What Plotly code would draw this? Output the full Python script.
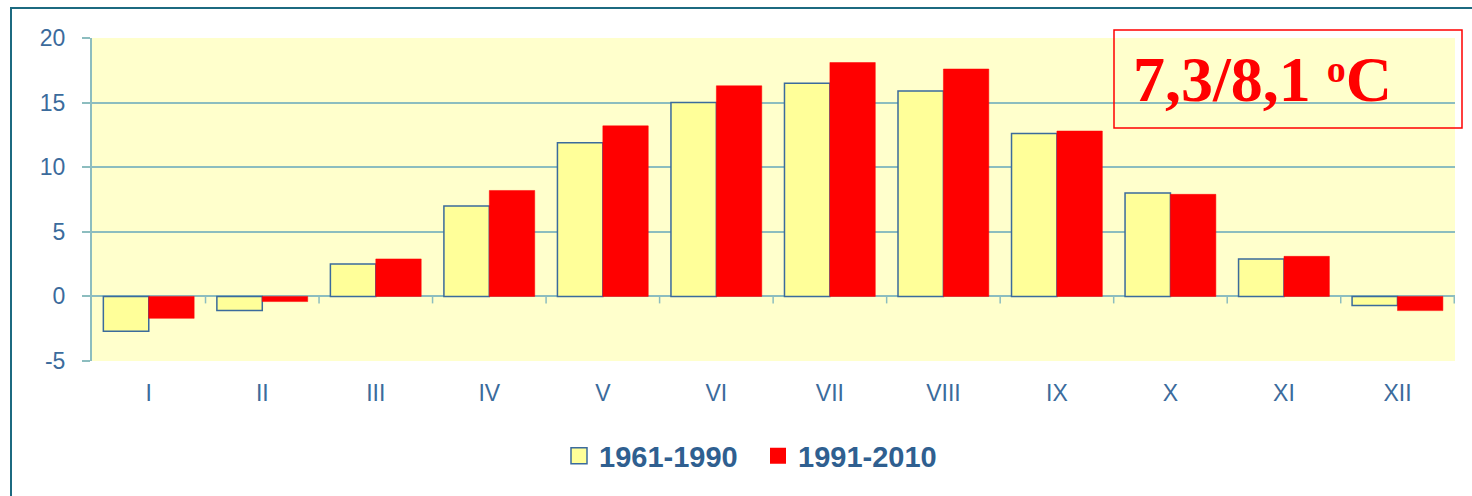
import plotly.graph_objects as go

months = ["I", "II", "III", "IV", "V", "VI", "VII", "VIII", "IX", "X", "XI", "XII"]
temp_1961_1990 = [-2.7, -1.1, 2.5, 7.0, 11.9, 15.0, 16.5, 15.9, 12.6, 8.0, 2.9, -0.7]
temp_1991_2010 = [-1.7, -0.4, 2.9, 8.2, 13.2, 16.3, 18.1, 17.6, 12.8, 7.9, 3.1, -1.1]
series_names = ["1961-1990", "1991-2010"]
mean_label = "7,3/8,1 <span style='font-size:38px;baseline-shift:19px'>o</span>C"
y_ticks = [-5, 0, 5, 10, 15, 20]
y_tick_text = ["-5", "0", "5", "10", "15", "20"]

W, H = 1472, 496
L, R, T, B = 92, 17, 38, 135
PW, PH = W - L - R, H - T - B

def xp(px):
    return (px - L) / PW

def yp(py):
    return (H - B - py) / PH

TEAL = "#8cbdbf"
BLUE = "#3b6b9c"
YELLOW = "#ffff99"
RED = "#ff0000"

fig = go.Figure()
fig.add_trace(go.Bar(x=months, y=temp_1961_1990, name=series_names[0],
                     marker=dict(color=YELLOW, line=dict(color=BLUE, width=1.5)),
                     showlegend=False))
fig.add_trace(go.Bar(x=months, y=temp_1991_2010, name=series_names[1],
                     marker=dict(color=RED, line=dict(color=RED, width=0.5)),
                     showlegend=False))

# legend entries with larger square swatches
fig.add_trace(go.Scatter(x=[None], y=[None], mode="markers", name=series_names[0],
                         marker=dict(symbol="square", size=16, color=YELLOW,
                                     line=dict(color=BLUE, width=1.5))))
fig.add_trace(go.Scatter(x=[None], y=[None], mode="markers", name=series_names[1],
                         marker=dict(symbol="square", size=16, color=RED,
                                     line=dict(color=RED, width=0))))

shapes = []
# small tick marks on the zero line between months
for k in range(len(months)):
    shapes.append(dict(type="line", xref="x", yref="y", x0=k + 0.5, x1=k + 0.5,
                       ysizemode="pixel", yanchor=0, y0=0, y1=-7,
                       line=dict(color=TEAL, width=1.5)))
# outer frame
shapes.append(dict(type="rect", xref="paper", yref="paper",
                   x0=xp(11), x1=xp(1490), y0=yp(520), y1=yp(8),
                   line=dict(color="#1c6a80", width=2), layer="below"))
# box around the mean annual temperature
shapes.append(dict(type="rect", xref="paper", yref="paper",
                   x0=xp(1114), x1=xp(1462), y0=yp(128), y1=yp(30),
                   line=dict(color=RED, width=1.5)))

fig.update_layout(
    width=W, height=H,
    margin=dict(l=L, r=R, t=T, b=B),
    paper_bgcolor="white",
    plot_bgcolor="#ffffcc",
    barmode="group", bargap=0.2, bargroupgap=0,
    shapes=shapes,
    annotations=[dict(text=mean_label, xref="paper", yref="paper",
                      x=xp(1131), y=yp(79), xanchor="left", yanchor="middle",
                      showarrow=False,
                      font=dict(family="Liberation Serif", size=64, color=RED,
                                weight="bold"))],
    legend=dict(orientation="h", x=xp(559), xanchor="left", y=yp(456), yanchor="middle",
                font=dict(family="Liberation Sans", size=29, color="#2f5f90", weight="bold"),
                bgcolor="rgba(0,0,0,0)", itemwidth=30, tracegroupgap=0,
                entrywidth=154),
    font=dict(family="Liberation Sans", color=BLUE),
)
fig.update_xaxes(showgrid=False, showline=False, ticks="", zeroline=False,
                 tickfont=dict(size=23, color=BLUE), ticklabelstandoff=16,
                 fixedrange=True)
fig.update_yaxes(range=[-5, 20], tickvals=y_ticks, ticktext=y_tick_text,
                 showgrid=True, gridcolor=TEAL, gridwidth=1.5,
                 zeroline=True, zerolinecolor=TEAL, zerolinewidth=2,
                 showline=True, linecolor=TEAL, linewidth=2,
                 ticks="outside", ticklen=8, tickcolor=TEAL, tickwidth=1.5,
                 tickfont=dict(size=23, color=BLUE), ticklabelstandoff=12,
                 fixedrange=True)

fig.write_html("out.html")
